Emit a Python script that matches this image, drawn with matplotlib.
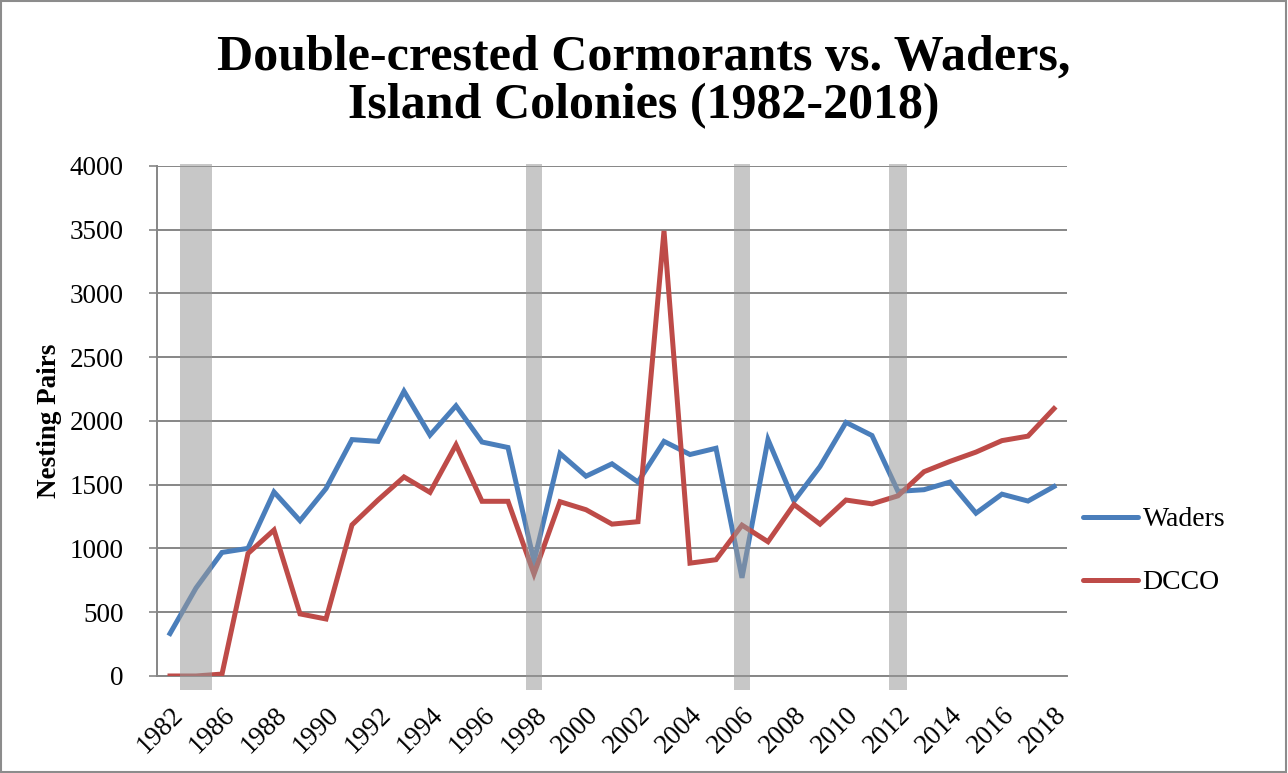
import matplotlib
matplotlib.use("Agg")
import matplotlib.pyplot as plt
from matplotlib.patches import Rectangle
from matplotlib.transforms import ScaledTranslation

# category labels as they appear on the axis (second slot sits between 1982 and 1986)
years = ["1982", "1984", "1986", "1987", "1988", "1989", "1990", "1991", "1992",
         "1993", "1994", "1995", "1996", "1997", "1998", "1999", "2000", "2001",
         "2002", "2003", "2004", "2005", "2006", "2007", "2008", "2009", "2010",
         "2011", "2012", "2013", "2014", "2015", "2016", "2017", "2018"]

waders = [333, 690, 969, 1001, 1443, 1218, 1470, 1854, 1840, 2233, 1889, 2119,
          1835, 1792, 900, 1745, 1567, 1664, 1521, 1840, 1737, 1786, 770, 1854,
          1372, 1643, 1989, 1886, 1448, 1461, 1521, 1277, 1426, 1372, 1486]

dcco = [0, 0, 15, 961, 1145, 487, 447, 1185, 1380, 1561, 1440, 1813,
        1370, 1370, 800, 1367, 1304, 1191, 1210, 3490, 885, 912, 1183, 1053,
        1345, 1191, 1380, 1350, 1413, 1602, 1683, 1756, 1846, 1881, 2097]

shade_years = ["1984", "1998", "2006", "2012"]
shade_halfwidth = [0.63, 0.31, 0.31, 0.33]

y_ticks = [0, 500, 1000, 1500, 2000, 2500, 3000, 3500, 4000]

SERIF = "Liberation Serif"

fig = plt.figure(figsize=(12.88, 7.73), dpi=100)
ax = fig.add_axes([0.1219, 0.1255, 0.7065, 0.6598])

x = list(range(len(years)))
ax.plot(x, waders, color="#4a7ebb", linewidth=3.6, label="Waders",
        solid_joinstyle="miter", zorder=3)
ax.plot(x, dcco, color="#be4b48", linewidth=3.6, label="DCCO",
        solid_joinstyle="miter", zorder=3)

# grey bands, drawn over the lines and a bit below the axis like the original
for yr, hw in zip(shade_years, shade_halfwidth):
    c = years.index(yr)
    ax.axvspan(c - hw, c + hw, ymin=-0.028, ymax=1.004, color="#999999",
               alpha=0.55, lw=0, clip_on=False, zorder=4)

ax.set_xlim(-0.5, len(years) - 0.5)
ax.set_ylim(0, 4000)
ax.set_yticks(y_ticks)
ax.set_yticklabels([str(v) for v in y_ticks], family=SERIF, fontsize=19.5)
ax.set_xticks(x[::2])
ax.set_xticklabels(years[::2], family=SERIF, fontsize=19.5,
                   rotation=45, ha="right", va="top", rotation_mode="anchor")
shift = ScaledTranslation(4 / 100, 0, fig.dpi_scale_trans)
for lbl in ax.get_xticklabels():
    lbl.set_transform(lbl.get_transform() + shift)
ax.tick_params(axis="x", length=0, pad=19)
ax.tick_params(axis="y", length=6, width=1.2, color="#868686", pad=18,
               direction="out")

ax.yaxis.grid(True, color="#868686", linewidth=1.4)
ax.set_axisbelow(True)
for side in ["top", "right"]:
    ax.spines[side].set_visible(False)
for side in ["left", "bottom"]:
    ax.spines[side].set_color("#868686")
    ax.spines[side].set_linewidth(1.4)

ax.set_ylabel("Nesting Pairs", family=SERIF, fontweight="bold", fontsize=19.5)
ax.yaxis.set_label_coords(-0.104, 0.5)

fig.text(0.5, 0.894, "Double-crested Cormorants vs. Waders,\nIsland Colonies (1982-2018)",
         ha="center", va="center", family=SERIF, fontweight="bold",
         fontsize=36, linespacing=1.08)

leg = ax.legend(loc="center left", bbox_to_anchor=(0.99, 0.245), frameon=False,
                prop={"family": SERIF, "size": 20},
                handlelength=2.0, labelspacing=1.35, handletextpad=0.15)
for h in leg.get_lines():
    h.set_solid_capstyle("round")

fig.patches.append(Rectangle((0.0005, 0.001), 0.998, 0.998, transform=fig.transFigure,
                             fill=False, edgecolor="#8c8c8c", linewidth=1.5))

fig.savefig("out.png", dpi=100)
